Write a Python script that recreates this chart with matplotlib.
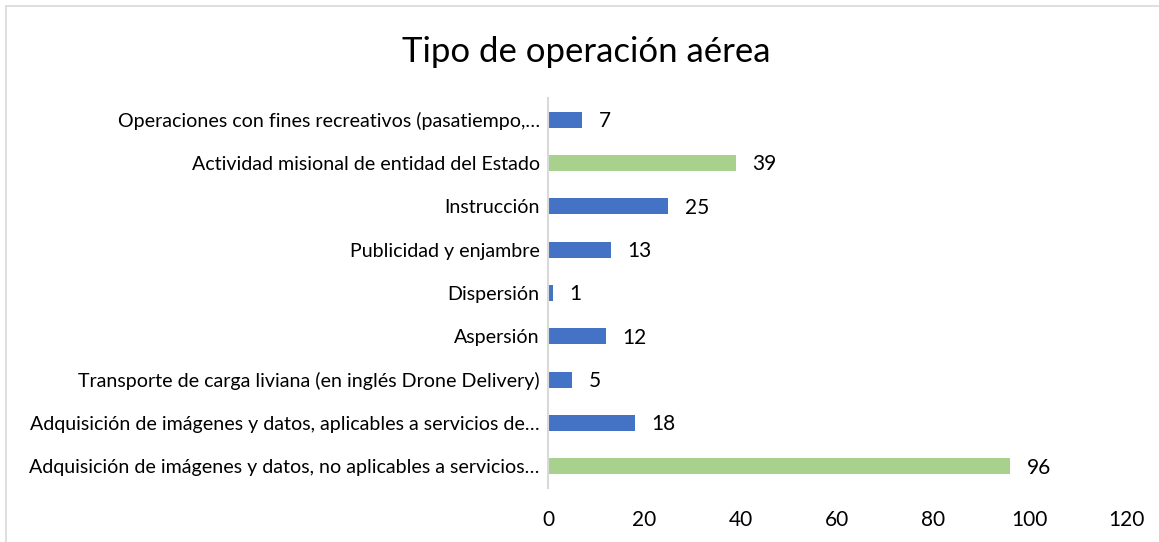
import matplotlib.pyplot as plt
from matplotlib.lines import Line2D

# datos
categorias = [
    "Adquisición de imágenes y datos, no aplicables a servicios…",
    "Adquisición de imágenes y datos, aplicables a servicios de…",
    "Transporte de carga liviana (en inglés Drone Delivery)",
    "Aspersión",
    "Dispersión",
    "Publicidad y enjambre",
    "Instrucción",
    "Actividad misional de entidad del Estado",
    "Operaciones con fines recreativos (pasatiempo,…",
]
valores = [96, 18, 5, 12, 1, 13, 25, 39, 7]
resaltados = [True, False, False, False, False, False, False, True, False]
ticks_x = [0, 20, 40, 60, 80, 100, 120]

azul = "#4472C4"
verde = "#A9D18E"
colores = [verde if r else azul for r in resaltados]

plt.rcParams['font.family'] = ['Lato', 'DejaVu Sans']

fig = plt.figure(figsize=(11.59, 5.42), dpi=100)
ax = fig.add_axes([548/1159, 1 - 488/542, (1126 - 548)/1159, 390/542])

pos = list(range(len(categorias)))
ax.barh(pos, valores, height=0.37, color=colores)

for p, v in zip(pos, valores):
    ax.annotate(str(v), (v, p), xytext=(12, -1), textcoords="offset points",
                ha="left", va="center", fontsize=15, color="#000000")

ax.set_xlim(0, 120)
ax.set_ylim(-0.5, len(categorias) - 0.5)
ax.set_xticks(ticks_x)
ax.set_xticklabels([str(t) for t in ticks_x], fontsize=15)
ax.set_yticks(pos)
ax.set_yticklabels(categorias, fontsize=14.1)
ax.tick_params(axis="both", length=0, colors="#000000")
ax.tick_params(axis="x", pad=16)
ax.tick_params(axis="y", pad=6)

for s in ["top", "right", "bottom"]:
    ax.spines[s].set_visible(False)
ax.spines["left"].set_color("#D9D9D9")
ax.spines["left"].set_linewidth(1.5)

fig.text(586/1159, 1 - 52/542, "Tipo de operación aérea", fontsize=25,
         ha="center", va="center")

# marco del gráfico
fig.add_artist(Line2D([6/1159, 6/1159], [0, 1 - 6/542], transform=fig.transFigure,
                      color="#D9D9D9", linewidth=1.2))
fig.add_artist(Line2D([6/1159, 1], [1 - 6/542, 1 - 6/542], transform=fig.transFigure,
                      color="#D9D9D9", linewidth=1.2))

fig.savefig("out.png", dpi=100)
